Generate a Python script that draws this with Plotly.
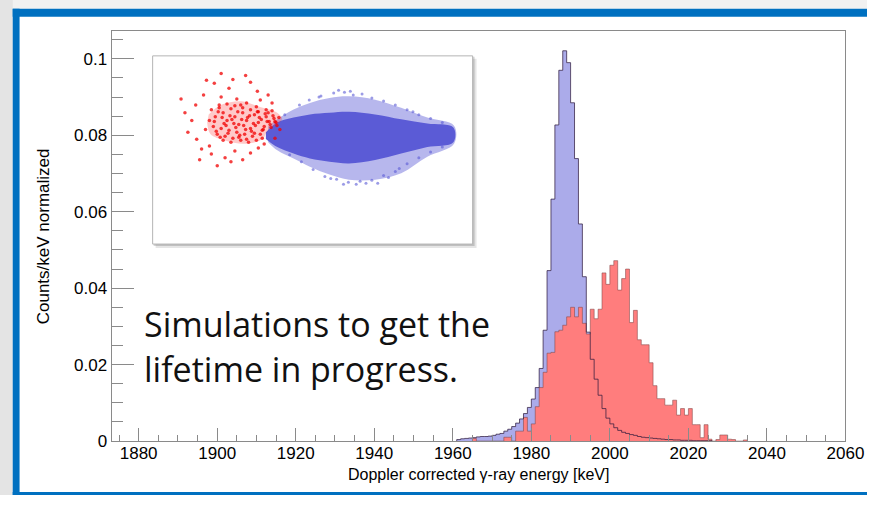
import plotly.graph_objects as go

W, H = 886, 505

# ---------------- data ----------------
blue_start = 1961  # first bin lower edge (1 keV bins)
blue_values = [
    0.0004, 0.0006, 0.0007, 0.0008, 0.0009, 0.0011, 0.0012, 0.0012, 0.0013, 0.0015,
    0.0018, 0.0020, 0.0026, 0.0031, 0.0038, 0.0047, 0.0058, 0.0072, 0.0088, 0.0110,
    0.0140, 0.0190, 0.0290, 0.0446, 0.0633, 0.0827, 0.0970, 0.1021, 0.0990, 0.0885,
    0.0739, 0.0568, 0.0430, 0.0285, 0.0214, 0.0162, 0.0120, 0.0085, 0.0060, 0.0045,
    0.0035, 0.0028, 0.0023, 0.0020, 0.0017, 0.0015, 0.0012, 0.0010, 0.0009, 0.0008,
    0.0007, 0.0006, 0.0005, 0.0004, 0.0004, 0.0003, 0.0003, 0.0002, 0.0002, 0.0002,
    0.0001, 0.0001, 0.0001, 0.0001, 0.0001,
]
red_start = 1965
red_values = [
    0.0007, 0.0, 0.0, 0.0, 0.0, 0.0, 0.0, 0.0, 0.0010, 0.0010,
    0.0, 0.0026, 0.0026, 0.0062, 0.0026, 0.0045, 0.0090, 0.0140, 0.0180, 0.0230,
    0.0232, 0.0286, 0.0290, 0.0303, 0.0325, 0.0350, 0.0325, 0.0350, 0.0308, 0.0280,
    0.0345, 0.0320, 0.0345, 0.0440, 0.0410, 0.0460, 0.0472, 0.0395, 0.0425, 0.0450,
    0.0310, 0.0342, 0.0265, 0.0252, 0.0252, 0.0205, 0.0145, 0.0111, 0.0111, 0.0094,
    0.0094, 0.0107, 0.0068, 0.0085, 0.0068, 0.0085, 0.0043, 0.0043, 0.0009, 0.0043,
    0.0005, 0.0, 0.0004, 0.0016, 0.0016, 0.0005, 0.0004, 0.0, 0.0, 0.0003,
]
x_range = [1873.1, 2060]
y_range = [0, 0.10726]
x_tick_start, x_tick_step, x_minor_step = 1880, 20, 5
y_tick_step, y_minor_step = 0.02, 0.005

x_title = "Doppler corrected γ-ray energy [keV]"
y_title = "Counts/keV normalized"
slide_text = ["Simulations to get the", "lifetime in progress."]

# inset picture (inset pixel coordinates, v downward)
inset_blue_core_u = [115.7, 127.3, 144, 160.7, 180.7, 200.7, 227.3, 254, 280.7, 307.3,
                     307.3, 280.7, 254, 227.3, 200.7, 180.7, 160.7, 144, 127.3, 115.7]
inset_blue_core_v = [78, 68, 63, 59.7, 58, 57, 59.7, 64.7, 69, 73,
                     88, 93, 99.7, 106.3, 109.7, 108, 104.7, 99.7, 93, 84.7]
inset_blue_halo_u = [118, 127.3, 144, 160.7, 180.7, 200.7, 227.3, 254, 280.7, 308,
                     308, 280.7, 254, 227.3, 200.7, 180.7, 160.7, 144, 127.3, 118]
inset_blue_halo_v = [72, 64.7, 54.7, 48, 43, 41.3, 44.7, 53, 63, 71.3,
                     89.7, 103, 119.7, 126.3, 126.3, 121, 113, 104.7, 96.3, 88]
inset_blue_dots_u = [135, 150, 160, 172, 185, 196, 205, 214, 224, 236, 248, 260, 272, 284, 296,
                     140, 152, 164, 176, 188, 200, 212, 224, 236, 248, 260, 272, 284, 296, 230,
                     195, 182, 208, 190, 241, 218, 170, 202, 252, 266]
inset_blue_dots_v = [60, 50, 45, 41, 38, 37, 40, 39, 43, 46, 50, 55, 60, 64, 68,
                     101, 108, 116, 123, 126, 129, 128, 127, 122, 118, 110, 104, 98, 93, 130,
                     131, 125, 131, 35, 124, 130, 42, 36, 115, 57]
inset_red_core_u = [57.3, 70.7, 90.7, 107.3, 127.3, 132.3, 117.3, 112.3, 94, 74, 59, 55.7]
inset_red_core_v = [59.7, 49.7, 46.3, 51.3, 58, 64.7, 76.3, 84.7, 89.7, 86.3, 79.7, 68]
inset_red_dots_u = [29, 33, 45, 48, 52, 55, 63, 70, 78, 82, 95, 100, 107, 110, 118, 122, 40, 44,
                    50, 60, 66, 74, 84, 92, 100, 108, 114, 125, 130, 36, 58, 80,
                    60, 64, 68, 72, 76, 80, 84, 88, 92, 96, 100, 104, 108, 112, 116, 120, 124,
                    62, 66, 70, 74, 78, 82, 86, 90, 94, 98, 102, 106, 110, 114, 118, 122, 126,
                    70, 86, 96, 58, 54, 90, 106,
                    63, 67, 71, 75, 79, 83, 87, 91, 95, 99, 103, 107, 111, 115, 119, 123, 127,
                    65, 69, 73, 77, 81, 85, 89, 93, 97, 101, 105, 109, 113, 117, 121, 125, 129,
                    68, 76, 84, 92, 100, 108, 116, 72, 80, 88, 96, 104, 112]
inset_red_dots_v = [44, 58, 85, 106, 40, 25, 28, 18, 33, 24, 20, 27, 36, 45, 40, 48, 66, 50,
                    95, 100, 112, 104, 97, 106, 99, 94, 90, 84, 75, 78, 92, 108,
                    55, 62, 50, 58, 66, 54, 62, 70, 58, 66, 74, 60, 68, 76, 62, 70, 64,
                    72, 80, 74, 82, 76, 84, 78, 86, 80, 88, 82, 86, 80, 72, 58, 56, 68,
                    42, 44, 48, 66, 75, 50, 52,
                    67, 57, 63, 71, 61, 69, 57, 65, 75, 61, 69, 57, 65, 59, 67, 61, 71,
                    77, 83, 69, 79, 65, 73, 81, 71, 63, 77, 71, 63, 75, 67, 73, 67, 63,
                    53, 49, 51, 53, 55, 57, 55, 86, 88, 83, 85, 79, 84]


# ---------------- helpers ----------------
def fx(p):
    return p / W


def fy(p):
    return 1 - p / H


def step_xy(start, values):
    edges = [start + i for i in range(len(values) + 1)]
    xs = [edges[0]] + edges[:-1] + [edges[-1]]
    ys = [0] + list(values) + [0]
    return xs, ys


FONT = "Liberation Sans, Arial, Helvetica, sans-serif"
AXC = "#8a8a8a"

fig = go.Figure()

bx, by = step_xy(blue_start, blue_values)
rx, ry = step_xy(red_start, red_values)

fig.add_trace(go.Scatter(x=bx, y=by, mode="lines", line=dict(shape="hv", width=0, color="rgba(0,0,0,0)"),
                         fill="tozeroy", fillcolor="#ababea", hoverinfo="skip", showlegend=False))
fig.add_trace(go.Scatter(x=rx, y=ry, mode="lines", line=dict(shape="hv", width=1, color="rgba(130,70,70,0.55)"),
                         fill="tozeroy", fillcolor="#ff7d7d", hoverinfo="skip", showlegend=False))
fig.add_trace(go.Scatter(x=bx, y=by, mode="lines", line=dict(shape="hv", width=1, color="rgba(45,25,60,0.72)"),
                         hoverinfo="skip", showlegend=False))

# inset
fig.add_trace(go.Scatter(x=inset_blue_halo_u, y=inset_blue_halo_v, xaxis="x2", yaxis="y2", mode="lines",
                         line=dict(width=0, shape="spline"), fill="toself", fillcolor="rgba(95,95,215,0.45)",
                         hoverinfo="skip", showlegend=False))
fig.add_trace(go.Scatter(x=inset_blue_dots_u, y=inset_blue_dots_v, xaxis="x2", yaxis="y2", mode="markers",
                         marker=dict(size=3, color="rgba(90,90,214,0.6)"), hoverinfo="skip", showlegend=False))
fig.add_trace(go.Scatter(x=inset_blue_core_u, y=inset_blue_core_v, xaxis="x2", yaxis="y2", mode="lines",
                         line=dict(width=0, shape="spline"), fill="toself", fillcolor="#5b5bd6",
                         hoverinfo="skip", showlegend=False))
fig.add_trace(go.Scatter(x=inset_red_core_u, y=inset_red_core_v, xaxis="x2", yaxis="y2", mode="lines",
                         line=dict(width=0, shape="spline"), fill="toself", fillcolor="rgba(255,40,40,0.25)",
                         hoverinfo="skip", showlegend=False))
fig.add_trace(go.Scatter(x=inset_red_dots_u, y=inset_red_dots_v, xaxis="x2", yaxis="y2", mode="markers",
                         marker=dict(size=3.5, color="rgba(240,0,0,0.75)"), hoverinfo="skip", showlegend=False))

shapes = []
# slide frame
shapes.append(dict(type="rect", xref="paper", yref="paper", x0=fx(0), x1=fx(W), y0=fy(0), y1=fy(9),
                   fillcolor="#f1f1f1", line=dict(width=0), layer="below"))
shapes.append(dict(type="rect", xref="paper", yref="paper", x0=fx(0), x1=fx(13), y0=fy(0), y1=fy(H),
                   fillcolor="#e4e4e4", line=dict(width=0), layer="below"))
shapes.append(dict(type="rect", xref="paper", yref="paper", x0=fx(13), x1=fx(W), y0=fy(9), y1=fy(17),
                   fillcolor="#0070c0", line=dict(width=0), layer="above"))
shapes.append(dict(type="rect", xref="paper", yref="paper", x0=fx(13), x1=fx(20), y0=fy(9), y1=fy(H),
                   fillcolor="#0070c0", line=dict(width=0), layer="above"))
shapes.append(dict(type="rect", xref="paper", yref="paper", x0=fx(13), x1=fx(W), y0=fy(502), y1=fy(H),
                   fillcolor="#0070c0", line=dict(width=0), layer="above"))
# inset frame with shadow
shapes.append(dict(type="rect", xref="paper", yref="paper", x0=fx(159), x1=fx(487), y0=fy(60), y1=fy(253),
                   fillcolor="rgba(0,0,0,0.10)", line=dict(width=0), layer="below"))
shapes.append(dict(type="rect", xref="paper", yref="paper", x0=fx(157), x1=fx(485), y0=fy(58), y1=fy(251),
                   fillcolor="rgba(0,0,0,0.16)", line=dict(width=0), layer="below"))
shapes.append(dict(type="rect", xref="paper", yref="paper", x0=fx(156), x1=fx(483), y0=fy(57), y1=fy(249),
                   fillcolor="white", line=dict(width=1, color="#b4b4b4"), layer="below"))

SLIDE_FONT = "Open Sans, Noto Sans, sans-serif"
annotations = [
    dict(text=x_title, xref="paper", yref="paper", x=fx(489), y=fy(484), xanchor="center", yanchor="middle",
         showarrow=False, font=dict(family=FONT, size=16, color="black")),
    dict(text=y_title, xref="paper", yref="paper", x=fx(44), y=fy(241), xanchor="center", yanchor="middle",
         textangle=-90, showarrow=False, font=dict(family=FONT, size=17, color="black")),
    dict(text=slide_text[0], xref="paper", yref="paper", x=fx(145), y=fy(331), xanchor="left", yanchor="middle",
         showarrow=False, font=dict(family=SLIDE_FONT, size=34, color="#111111")),
    dict(text=slide_text[1], xref="paper", yref="paper", x=fx(145), y=fy(376), xanchor="left", yanchor="middle",
         showarrow=False, font=dict(family=SLIDE_FONT, size=34, color="#111111")),
]

fig.update_layout(
    width=W, height=H, margin=dict(l=0, r=0, t=0, b=0),
    paper_bgcolor="white", plot_bgcolor="rgba(0,0,0,0)",
    showlegend=False, shapes=shapes, annotations=annotations,
    xaxis=dict(domain=[fx(114), fx(864)], range=x_range, anchor="y",
               tickmode="linear", tick0=x_tick_start, dtick=x_tick_step,
               ticks="inside", ticklen=13, tickwidth=1, tickcolor=AXC,
               minor=dict(tick0=x_tick_start, dtick=x_minor_step, ticks="inside", ticklen=6,
                          tickwidth=1, tickcolor=AXC, showgrid=False),
               showline=True, linecolor=AXC, linewidth=1, mirror=True,
               showgrid=False, zeroline=False, ticklabelstandoff=-3,
               tickfont=dict(family=FONT, size=17, color="black")),
    yaxis=dict(domain=[fy(450), fy(31.7)], range=y_range, anchor="x",
               tickmode="linear", tick0=0, dtick=y_tick_step,
               ticks="inside", ticklen=22, tickwidth=1, tickcolor=AXC,
               minor=dict(tick0=0, dtick=y_minor_step, ticks="inside", ticklen=11,
                          tickwidth=1, tickcolor=AXC, showgrid=False),
               showline=True, linecolor=AXC, linewidth=1, mirror=True,
               showgrid=False, zeroline=False,
               tickfont=dict(family=FONT, size=17, color="black")),
    xaxis2=dict(domain=[fx(157), fx(482)], range=[1, 326], anchor="y2", visible=False),
    yaxis2=dict(domain=[fy(248), fy(58)], range=[191, 1], anchor="x2", visible=False),
)

fig.write_html("out.html")
